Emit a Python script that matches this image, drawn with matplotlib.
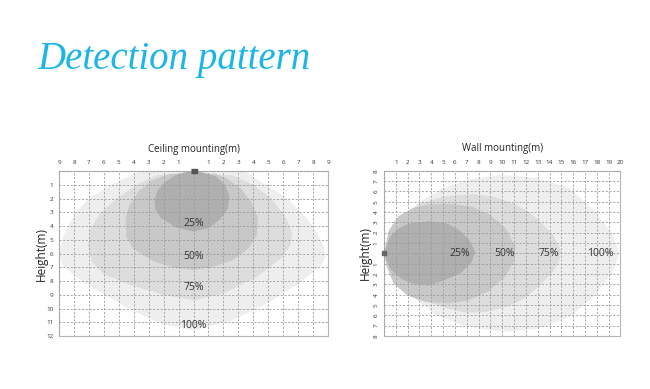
import numpy as np
import matplotlib
matplotlib.use('Agg')
import matplotlib.pyplot as plt
from matplotlib.patches import Polygon

plt.rcParams['font.family'] = ['Open Sans', 'DejaVu Sans']

# ---------------- data ----------------
# ceiling mounting: outline of each zone, (x, depth) in m, depth grows downward
ceil_100_x = [-3.6, -5.5, -6.9, -7.8, -8.4, -8.8, -8.95, -8.8, -8.2, -6.9, -4.5, -2.2, 0.0,
              2.5, 4.8, 6.9, 8.5, 8.85, 8.7, 8.2, 7.7, 6.3, 4.1, 3.5]
ceil_100_y = [0.05, 1.0, 1.9, 2.9, 4.0, 5.0, 6.0, 6.8, 7.4, 8.4, 9.9, 11.1, 11.6,
              10.9, 9.7, 8.3, 6.9, 6.2, 5.4, 4.4, 3.6, 2.0, 0.5, 0.05]
ceil_75_x = [-2.4, -3.8, -5.0, -6.2, -6.95, -7.05, -6.8, -6.0, -4.2, -2.0, 0.0,
             2.0, 4.1, 5.8, 6.5, 6.6, 6.2, 5.2, 4.0, 2.6]
ceil_75_y = [0.3, 1.0, 1.9, 3.0, 4.3, 5.5, 6.6, 7.5, 8.3, 9.0, 9.4,
             8.9, 7.8, 6.4, 5.4, 4.5, 3.4, 2.0, 1.0, 0.3]
ceil_50_x = [-1.6, -2.8, -3.7, -4.3, -4.55, -4.5, -4.0, -2.6, -1.2, 0.0,
             1.2, 2.6, 3.7, 4.25, 4.3, 3.9, 3.2, 2.3, 1.5]
ceil_50_y = [0.2, 0.7, 1.5, 2.5, 3.5, 4.8, 5.7, 6.6, 7.05, 7.2,
             7.0, 6.5, 5.6, 4.6, 3.4, 2.3, 1.3, 0.6, 0.2]
ceil_25_x = [-0.3, -1.2, -1.9, -2.4, -2.6, -2.55, -2.2, -1.2, 0.0,
             1.0, 1.8, 2.3, 2.4, 2.1, 1.5, 0.3]
ceil_25_y = [0.0, 0.3, 0.8, 1.4, 2.1, 2.8, 3.4, 4.1, 4.4,
             4.15, 3.5, 2.7, 1.8, 1.0, 0.4, 0.0]
ceil_label_y = [3.8, 6.2, 8.5, 11.2]

# wall mounting: outline of each zone, (distance, height) in m
wall_100_x = [0.0, 0.4, 1.2, 2.2, 3.5, 5.0, 7.0, 9.8, 12.9, 15.7, 17.9, 19.35, 19.9,
              19.35, 17.9, 15.7, 12.9, 10.2, 7.0, 4.4, 2.2, 0.8, 0.2]
wall_100_y = [0.0, 1.8, 3.2, 4.2, 5.3, 6.3, 7.1, 7.6, 7.3, 6.3, 4.0, 1.8, 0.0,
              -1.8, -4.0, -6.15, -7.3, -7.6, -7.1, -6.0, -4.0, -2.2, -0.9]
wall_75_x = [0.0, 0.6, 1.35, 2.8, 5.0, 7.5, 9.2, 10.6, 12.0, 12.9, 14.3, 15.0,
             14.8, 14.3, 12.9, 11.8, 10.6, 8.5, 6.8, 5.3, 2.8, 1.1, 0.3]
wall_75_y = [0.0, 2.2, 3.2, 4.7, 5.5, 5.75, 5.5, 5.0, 4.2, 3.4, 1.8, 0.2,
             -0.8, -1.8, -3.4, -4.4, -5.1, -5.7, -5.7, -5.3, -4.4, -2.75, -1.2]
wall_50_x = [0.0, 0.4, 1.2, 2.5, 3.9, 5.6, 7.5, 9.0, 10.3, 11.1,
             11.0, 10.2, 8.8, 7.0, 5.3, 3.5, 2.0, 0.8, 0.2]
wall_50_y = [0.0, 2.2, 3.6, 4.4, 4.75, 4.8, 4.5, 3.7, 2.4, 0.6,
             -0.8, -2.3, -3.7, -4.6, -4.85, -4.7, -4.1, -2.9, -1.2]
wall_25_x = [0.0, 0.5, 1.2, 2.2, 3.9, 5.3, 6.3, 7.2, 7.7,
             7.4, 6.5, 5.3, 3.9, 2.6, 1.5, 0.5]
wall_25_y = [0.0, 1.6, 2.4, 2.9, 3.1, 2.9, 2.3, 1.3, 0.2,
             -0.9, -1.9, -2.5, -3.1, -3.0, -2.5, -1.5]
wall_label_x = [6.4, 10.2, 13.9, 18.3]

zone_names = ['25%', '50%', '75%', '100%']
zone_colors = ['#afafaf', '#c8c8c8', '#dddddd', '#eeeeee']
sensor_ceiling = (0, 0)
sensor_wall = (0, 0)

fig = plt.figure(figsize=(6.5, 3.89), dpi=100)
fig.text(0.057, 0.822, 'Detection pattern', color='#1cb5ea', fontsize=28,
         family='Liberation Serif', style='italic')

ax1 = fig.add_axes([0.0908, 0.1362, 0.4138, 0.4242])
ax2 = fig.add_axes([0.5908, 0.1362, 0.3638, 0.4250])

def style(ax):
    ax.grid(True, color='#9a9a9a', lw=0.6, ls=(0, (2.5, 2)))
    ax.set_axisbelow(False)
    for s in ax.spines.values():
        s.set_color('#b5b5b5')
        s.set_linewidth(0.8)
    ax.tick_params(length=0, labelsize=4.5, labelcolor='#333333')
    ax.xaxis.tick_top()

# ---- ceiling
ceil_shapes = [(ceil_100_x, ceil_100_y), (ceil_75_x, ceil_75_y),
               (ceil_50_x, ceil_50_y), (ceil_25_x, ceil_25_y)]
for (xs, ys), c in zip(ceil_shapes, zone_colors[::-1]):
    ax1.add_patch(Polygon(np.column_stack([xs, ys]), closed=True, fc=c, ec='none',
                          joinstyle='round', zorder=1))
for name, y in zip(zone_names, ceil_label_y):
    ax1.text(0, y, name, ha='center', va='center', fontsize=7.5, color='#333333', zorder=4)
ax1.plot(*sensor_ceiling, marker=[(-2.2, -1), (2.2, -1), (2.2, 1), (-2.2, 1)], ms=5,
         color='#555555', clip_on=False, zorder=5)
ax1.set_xlim(-9, 9)
ax1.set_ylim(12, 0)
xt = np.arange(-9, 10)
ax1.set_xticks(xt)
ax1.set_xticklabels([str(abs(v)) if v != 0 else '' for v in xt])
yt = np.arange(0, 13)
ax1.set_yticks(yt)
ax1.set_yticklabels([str(v) if v != 0 else '' for v in yt])
style(ax1)
ax1.tick_params(axis='x', pad=4)
ax1.tick_params(axis='y', pad=4)
ax1.set_title('Ceiling mounting(m)', fontsize=7, color='#222222', pad=14)
ax1.set_ylabel('Height(m)', fontsize=8.5, color='#222222', labelpad=-1)

# ---- wall
wall_shapes = [(wall_100_x, wall_100_y), (wall_75_x, wall_75_y),
               (wall_50_x, wall_50_y), (wall_25_x, wall_25_y)]
for (xs, ys), c in zip(wall_shapes, zone_colors[::-1]):
    ax2.add_patch(Polygon(np.column_stack([xs, ys]), closed=True, fc=c, ec='none',
                          joinstyle='round', zorder=1))
for name, x in zip(zone_names, wall_label_x):
    ax2.text(x, 0, name, ha='center', va='center', fontsize=7.5, color='#333333', zorder=4)
ax2.plot(*sensor_wall, marker='s', ms=2.5, color='#666666', clip_on=False, zorder=5)
ax2.set_xlim(0, 20)
ax2.set_ylim(-8, 8)
xt2 = np.arange(0, 21)
ax2.set_xticks(xt2)
ax2.set_xticklabels([str(v) if v != 0 else '' for v in xt2])
yt2 = np.arange(-8, 9)
ax2.set_yticks(yt2)
ax2.set_yticklabels([str(abs(v)) if v != 0 else '' for v in yt2], rotation=90, va='center')
style(ax2)
ax2.tick_params(axis='x', pad=4)
ax2.tick_params(axis='y', pad=4)
ax2.set_title('Wall mounting(m)', fontsize=7, color='#222222', pad=14)
ax2.set_ylabel('Height(m)', fontsize=8.5, color='#222222', labelpad=1)

fig.savefig('out.png', dpi=100)
